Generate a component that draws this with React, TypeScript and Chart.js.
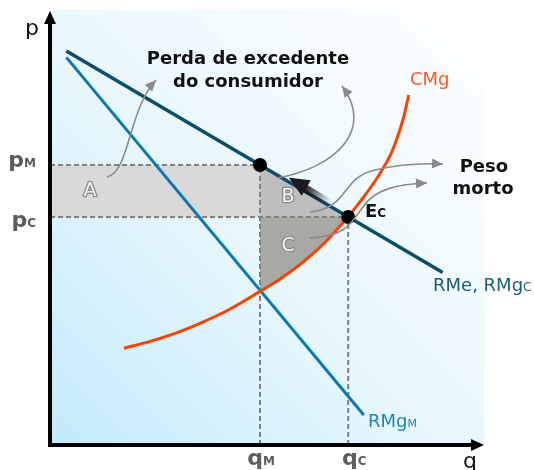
import React, { useEffect, useRef } from "react";
import { Chart, registerables } from "chart.js";

Chart.register(...registerables);

// ---- values (q = quantity, p = price) ----
const qM = 5.0;
const qC = 7.1;
const pM = 7.0;
const pC = 5.7;
const axisMaxQ = 10.333;
const axisMaxP = 10.875;

const demandQ = [0.39, 9.35];
const demandP = [9.85, 4.31];
const mrMonopolyQ = [0.39, 7.47];
const mrMonopolyP = [9.69, 0.75];
const mcQ = [1.76, 2.38, 2.98, 3.57, 4.29, 5.0, 5.48, 5.95, 6.19, 6.55, 6.9, 7.1, 7.38, 7.74, 8.1, 8.21, 8.33, 8.43, 8.54];
const mcP = [2.42, 2.59, 2.79, 3.04, 3.4, 3.84, 4.15, 4.51, 4.72, 5.07, 5.47, 5.7, 6.08, 6.6, 7.24, 7.52, 7.88, 8.24, 8.75];
const equilibriumQ = [qM, qC];
const equilibriumP = [pM, pC];

const FONT = '"DejaVu Sans", Verdana, sans-serif';

const pts = (qs: number[], ps: number[]) => qs.map((q, i) => ({ x: q, y: ps[i] }));

function subText(
  ctx: CanvasRenderingContext2D,
  main: string,
  sub: string,
  x: number,
  y: number,
  mainPx: number,
  subPx: number,
  weight: string,
  color: string,
  align: "left" | "center" | "right"
) {
  const mf = `${weight} ${mainPx}px ${FONT}`;
  const sf = `${weight} ${subPx}px ${FONT}`;
  ctx.font = mf;
  const w1 = ctx.measureText(main).width;
  ctx.font = sf;
  const w2 = ctx.measureText(sub).width;
  const start = align === "center" ? x - (w1 + w2) / 2 : align === "right" ? x - w1 - w2 : x;
  ctx.fillStyle = color;
  ctx.textAlign = "left";
  ctx.textBaseline = "alphabetic";
  ctx.font = mf;
  ctx.fillText(main, start, y);
  ctx.font = sf;
  ctx.fillText(sub, start + w1, y);
}

function arrowHead(ctx: CanvasRenderingContext2D, tx: number, ty: number, fx: number, fy: number, len: number, half: number, color: string) {
  const a = Math.atan2(ty - fy, tx - fx);
  ctx.save();
  ctx.fillStyle = color;
  ctx.beginPath();
  ctx.moveTo(tx, ty);
  ctx.lineTo(tx - len * Math.cos(a) + half * Math.sin(a), ty - len * Math.sin(a) - half * Math.cos(a));
  ctx.lineTo(tx - len * Math.cos(a) - half * Math.sin(a), ty - len * Math.sin(a) + half * Math.cos(a));
  ctx.closePath();
  ctx.fill();
  ctx.restore();
}

const annotate = {
  id: "annotate",
  beforeDatasetsDraw(chart: any) {
    const { ctx, chartArea: a } = chart;
    ctx.save();
    const g = ctx.createLinearGradient(a.left, a.bottom, a.right, a.top);
    g.addColorStop(0, "#c3ebfb");
    g.addColorStop(0.45, "#e8f7fd");
    g.addColorStop(1, "#ffffff");
    ctx.fillStyle = g;
    ctx.fillRect(a.left, a.top, a.right - a.left, a.bottom - a.top);
    ctx.restore();
  },
  afterDatasetsDraw(chart: any) {
    const { ctx, chartArea: a } = chart;
    const xs = chart.scales.x;
    const ys = chart.scales.y;
    const X = (q: number) => xs.getPixelForValue(q);
    const Y = (p: number) => ys.getPixelForValue(p);
    ctx.save();

    // axes with arrows
    ctx.strokeStyle = "#000";
    ctx.lineWidth = 4;
    ctx.beginPath();
    ctx.moveTo(a.left, a.top + 12);
    ctx.lineTo(a.left, a.bottom);
    ctx.lineTo(a.right - 12, a.bottom);
    ctx.stroke();
    arrowHead(ctx, a.left, a.top + 1, a.left, a.top + 20, 13, 6, "#000");
    arrowHead(ctx, a.right, a.bottom, a.right - 20, a.bottom, 13, 6, "#000");

    // gray curved arrows
    const gray = "#8a8a8a";
    const curve = (p: number[][]) => {
      const P = p.map(([q, v]) => [X(q), Y(v)]);
      ctx.strokeStyle = gray;
      ctx.lineWidth = 1.6;
      ctx.beginPath();
      ctx.moveTo(P[0][0], P[0][1]);
      for (let i = 1; i + 2 < P.length; i += 3) {
        ctx.bezierCurveTo(P[i][0], P[i][1], P[i + 1][0], P[i + 1][1], P[i + 2][0], P[i + 2][1]);
      }
      ctx.stroke();
      const n = P.length;
      arrowHead(ctx, P[n - 1][0], P[n - 1][1], P[n - 2][0], P[n - 2][1], 11, 5, gray);
    };
    curve([[1.357, 6.7], [1.905, 6.83], [1.857, 8.375], [2.524, 9.125]]);
    curve([[5.405, 6.675], [6.786, 6.925], [7.738, 7.875], [6.952, 8.975]]);
    curve([[6.19, 5.825], [7.143, 5.925], [6.905, 6.675], [7.738, 6.875], [8.333, 7.025], [8.81, 7.05], [9.357, 7.025]]);
    curve([[6.19, 5.175], [7.024, 5.225], [7.143, 5.5], [7.429, 5.925], [7.738, 6.425], [8.333, 6.525], [8.976, 6.55]]);

    // bold black arrow along RMe near B
    {
      const dx = X(demandQ[1]) - X(demandQ[0]);
      const dy = Y(demandP[1]) - Y(demandP[0]);
      const L = Math.hypot(dx, dy);
      const ux = dx / L, uy = dy / L;
      const tx = X(5.69), ty = Y(6.68);
      const bx = tx + ux * 18, by = ty + uy * 18;
      const ex = tx + ux * 48, ey = ty + uy * 48;
      const g = ctx.createLinearGradient(bx, by, ex, ey);
      g.addColorStop(0, "rgba(20,20,20,0.95)");
      g.addColorStop(1, "rgba(20,20,20,0)");
      ctx.strokeStyle = g;
      ctx.lineWidth = 8;
      ctx.beginPath();
      ctx.moveTo(bx - uy * 1, by + ux * 1);
      ctx.lineTo(ex - uy * 1, ey + ux * 1);
      ctx.stroke();
      arrowHead(ctx, tx, ty, bx, by, 20, 9, "#1a1a1a");
    }

    // region letters (outlined)
    const outlined = (t: string, q: number, p: number) => {
      ctx.font = `19px ${FONT}`;
      ctx.textAlign = "center";
      ctx.textBaseline = "middle";
      ctx.lineWidth = 2.6;
      ctx.lineJoin = "round";
      ctx.strokeStyle = "#8c8c8c";
      ctx.strokeText(t, X(q), Y(p));
      ctx.fillStyle = "#f2f2f2";
      ctx.fillText(t, X(q), Y(p));
    };
    outlined("A", 0.952, 6.35);
    outlined("B", 5.667, 6.2);
    outlined("C", 5.667, 4.975);

    // titles
    ctx.fillStyle = "#111";
    ctx.textAlign = "center";
    ctx.textBaseline = "alphabetic";
    ctx.font = `bold 18px ${FONT}`;
    ctx.fillText("Perda de excedente", X(4.714), Y(9.525));
    ctx.fillText("do consumidor", X(4.714), Y(8.95));
    ctx.fillText("Peso", X(10.33), Y(6.825));
    ctx.fillText("morto", X(10.31), Y(6.275));

    subText(ctx, "E", "C", X(7.5), Y(5.7), 18, 12, "bold", "#111", "left");

    // curve labels
    ctx.textAlign = "left";
    ctx.font = `18px ${FONT}`;
    ctx.fillStyle = "#ff5a1e";
    ctx.fillText("CMg", X(8.57), Y(9.0));
    subText(ctx, "RMe, RMg", "C", X(9.12), Y(3.85), 18, 12, "normal", "#1d5b78", "left");
    subText(ctx, "RMg", "M", X(7.571), Y(0.45), 18, 11, "normal", "#1a85bf", "left");

    // tick labels
    const tc = "#5c5c5c";
    subText(ctx, "p", "M", a.left - 14, Y(pM) + 2, 22, 12, "bold", tc, "right");
    subText(ctx, "p", "C", a.left - 14, Y(pC) + 10, 22, 12, "bold", tc, "right");
    subText(ctx, "q", "M", X(qM) + 1, a.bottom + 20, 22, 12, "bold", tc, "center");
    subText(ctx, "q", "C", X(qC) + 6, a.bottom + 20, 22, 12, "bold", tc, "center");

    // axis names
    ctx.fillStyle = "#111";
    ctx.font = `22px ${FONT}`;
    ctx.textAlign = "left";
    ctx.fillText("p", a.left - 25, a.top + 25);
    ctx.fillText("q", a.right - 21, a.bottom + 23);

    ctx.restore();
  },
};

export default function App() {
  const ref = useRef<HTMLCanvasElement>(null);
  useEffect(() => {
    document.body.style.margin = "0";
    const mcBetween = pts(mcQ, mcP).filter((d) => d.x >= qM - 1e-9 && d.x <= qC + 1e-9);
    const dashed = {
      borderColor: "#808080",
      borderWidth: 2,
      borderDash: [5, 3],
      pointRadius: 0,
      fill: false,
    };
    const area = { borderWidth: 0, borderColor: "rgba(0,0,0,0)", pointRadius: 0 };
    const chart = new Chart(ref.current!, {
      type: "line",
      data: {
        datasets: [
          {
            label: "equilibria",
            data: pts(equilibriumQ, equilibriumP),
            showLine: false,
            pointRadius: 7,
            pointBackgroundColor: "#000",
            pointBorderWidth: 0,
            order: 0,
          } as any,
          {
            label: "RMe, RMgC",
            data: pts(demandQ, demandP),
            borderColor: "#0c4d6b",
            borderWidth: 3.5,
            pointRadius: 0,
            order: 1,
          },
          {
            label: "CMg",
            data: pts(mcQ, mcP),
            borderColor: "#ff4000",
            borderWidth: 3,
            cubicInterpolationMode: "monotone",
            pointRadius: 0,
            order: 2,
          },
          {
            label: "RMgM",
            data: pts(mrMonopolyQ, mrMonopolyP),
            borderColor: "#0a79b2",
            borderWidth: 3,
            pointRadius: 0,
            order: 3,
          },
          { label: "pM", data: pts([0, qM], [pM, pM]), ...dashed, order: 4 },
          { label: "pC", data: pts([0, qC], [pC, pC]), ...dashed, order: 5 },
          { label: "qM", data: pts([qM, qM], [0, pM]), ...dashed, order: 6 },
          { label: "qC", data: pts([qC, qC], [0, pC]), ...dashed, order: 7 },
          { label: "A", data: pts([0, qM], [pM, pM]), ...area, fill: { value: pC }, backgroundColor: "#d9d9d9", order: 8 },
          { label: "B", data: pts([qM, qC], [pM, pC]), ...area, fill: { value: pC }, backgroundColor: "#bdbdbd", order: 9 },
          {
            label: "C",
            data: mcBetween,
            ...area,
            cubicInterpolationMode: "monotone",
            fill: { value: pC },
            backgroundColor: "#a8a8a4",
            order: 10,
          },
        ] as any,
      },
      options: {
        animation: false,
        responsive: false,
        devicePixelRatio: 1,
        layout: { padding: { left: 50, right: 50, top: 10, bottom: 25 } },
        scales: {
          x: { type: "linear", min: 0, max: axisMaxQ, display: false },
          y: { type: "linear", min: 0, max: axisMaxP, display: false },
        },
        plugins: { legend: { display: false }, tooltip: { enabled: false } },
        elements: { line: { tension: 0 } },
      },
      plugins: [annotate],
    });
    return () => chart.destroy();
  }, []);
  return <canvas ref={ref} width={534} height={470} style={{ display: "block" }} />;
}
